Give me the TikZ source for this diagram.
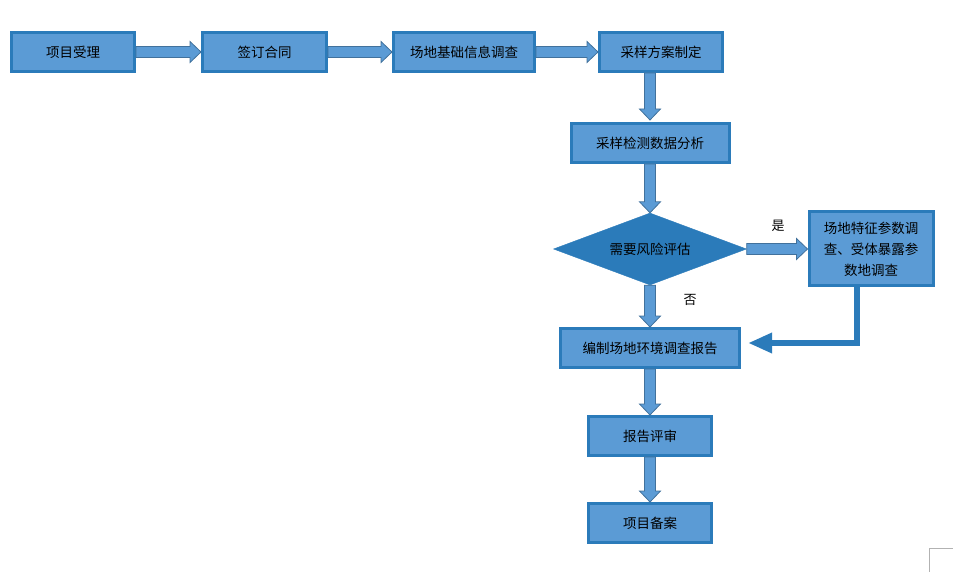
\documentclass[tikz,border=0pt]{standalone}
\usepackage{fontspec}
\setmainfont{Noto Sans CJK SC}
\usetikzlibrary{shapes.geometric, arrows.meta, positioning, calc}

\definecolor{boxfill}{HTML}{5B9BD5}
\definecolor{boxline}{HTML}{2B7BBA}
\definecolor{arrowline}{HTML}{41719C}

% block arrow between two points
\newcommand{\blockarrow}[2]{%
  \coordinate (ba-s) at (#1);
  \coordinate (ba-e) at (#2);
  \coordinate (ba-h) at ($(ba-e)!11pt!(ba-s)$);
  \filldraw[blockarr] ($(ba-s)!5.5pt!90:(ba-e)$) -- ($(ba-h)!5.5pt!-90:(ba-s)$)
    -- ($(ba-h)!10.5pt!-90:(ba-s)$) -- (ba-e) -- ($(ba-h)!10.5pt!90:(ba-s)$)
    -- ($(ba-h)!5.5pt!90:(ba-s)$) -- ($(ba-s)!5.5pt!-90:(ba-e)$) -- cycle;}

\begin{document}
\begin{tikzpicture}[
      x=1pt, y=-1pt,
      font=\fontsize{13.5}{17}\selectfont,
      proc/.style={rectangle, draw=boxline, line width=3pt, fill=boxfill, minimum width=123pt, minimum height=39pt, inner sep=2pt, align=center},
      decide/.style={diamond, draw=boxline, fill=boxline, aspect=2.7, minimum width=193pt, minimum height=72pt, inner sep=0pt},
      blockarr/.style={fill=boxfill, draw=arrowline, line width=0.8pt, line join=miter},
      thickline/.style={draw=boxline, line width=6.5pt, -{Triangle[length=24pt, width=19pt]}},
      lbl/.style={font=\fontsize{13}{15}\selectfont}
    ]
    \useasboundingbox (0,0) rectangle (959,572);

    \node[proc] (accept) at (73,52) {项目受理};
    \node[proc, right=65pt of accept, minimum width=124pt] (contract) {签订合同};
    \node[proc, right=64pt of contract, minimum width=141pt] (basic) {场地基础信息调查};
    \node[proc, right=62pt of basic] (plan) {采样方案制定};

    \node[proc, minimum width=158pt] (analysis) at (650,143) {采样检测数据分析};
    \node[decide] (risk) at (650,249) {需要风险评估};
    \node[proc, minimum width=124pt, minimum height=74pt, font=\fontsize{13.5}{21}\selectfont] (param) at (871,249) {场地特征参数调\\查、受体暴露参\\数地调查};
    \node[proc, minimum width=179pt] (report) at (650,348) {编制场地环境调查报告};
    \node[proc] (review) at (650,436) {报告评审};
    \node[proc] (filing) at (650,523) {项目备案};

    \blockarrow{accept.east}{contract.west}
    \blockarrow{contract.east}{basic.west}
    \blockarrow{basic.east}{plan.west}
    \blockarrow{[xshift=-11pt]plan.south}{[xshift=-11pt,yshift=-47pt]plan.south}
    \blockarrow{analysis.south}{risk.north}
    \blockarrow{risk.east}{param.west}
    \blockarrow{risk.south}{report.north}
    \blockarrow{report.south}{review.north}
    \blockarrow{review.south}{filing.north}

    \node[lbl] (yes) at (778,226) {是};
    \node[lbl] (no) at (690,300) {否};

    \draw[thickline] ([xshift=-14pt]param.south) |- ([xshift=7pt,yshift=5pt]report.east);

    % page corner mark
    \draw[gray!60, line width=0.8pt] (929,572) -- (929,548) -- (953,548);
  \end{tikzpicture}
\end{document}
